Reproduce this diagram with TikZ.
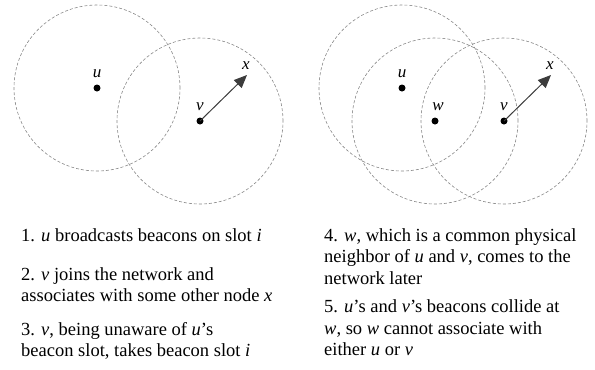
\documentclass[tikz,border=0pt]{standalone}
\usepackage{fontspec}
\setmainfont{Liberation Serif}
\usetikzlibrary{arrows.meta}
\definecolor{rangegray}{RGB}{135,135,135}
\definecolor{arrowgray}{RGB}{60,60,60}
\tikzset{
  rangecircle/.style={draw=rangegray, line width=0.6bp, dash pattern=on 3bp off 2bp},
  nodedot/.style={circle, fill=black, inner sep=0pt, minimum size=7bp},
  nodelabel/.style={font=\fontsize{17bp}{17bp}\selectfont\itshape, inner sep=0pt, anchor=base},
  assoc/.style={draw=arrowgray, line width=1bp, -{Triangle[length=13bp,width=11bp,fill=arrowgray]}},
  steptext/.style={font=\fontsize{18.5bp}{22.5bp}\selectfont, inner sep=0pt, anchor=base west}
}
\begin{document}
\begin{tikzpicture}[x=1bp,y=-1bp]
\useasboundingbox (0,0) rectangle (595,369);
% left panel
\node[nodedot] (u1) at (97,88) {};
\node[nodedot] (v1) at (200,121) {};
\coordinate (x1) at (247,75);
\draw[rangecircle] (u1.center) circle (83bp);
\draw[rangecircle] (v1.center) circle (83bp);
\draw[assoc] (v1.center) -- (x1);
\node[nodelabel] (lu1) at (97,77) {u};
\node[nodelabel] (lv1) at (200,110) {v};
\node[nodelabel] (lx1) at (246,69) {x};
% right panel
\node[nodedot] (u2) at (402,88) {};
\node[nodedot] (w2) at (435,121) {};
\node[nodedot] (v2) at (504,121) {};
\coordinate (x2) at (551,75);
\draw[rangecircle] (u2.center) circle (83bp);
\draw[rangecircle] (w2.center) circle (83bp);
\draw[rangecircle] (v2.center) circle (83bp);
\draw[assoc] (v2.center) -- (x2);
\node[nodelabel] (lu2) at (402,77) {u};
\node[nodelabel] (lw2) at (438,110) {w};
\node[nodelabel] (lv2) at (504,110) {v};
\node[nodelabel] (lx2) at (550,69) {x};
% texts, left column
\node[steptext] (s1a) at (21,241) {1. \textit{u} broadcasts beacons on slot \textit{i}};
\node[steptext] (s2a) at (21,280) {2. \textit{v} joins the network and};
\node[steptext] (s2b) at (21,301.5) {associates with some other node \textit{x}};
\node[steptext] (s3a) at (21,335) {3. \textit{v}, being unaware of \textit{u}’s};
\node[steptext] (s3b) at (21,356.5) {beacon slot, takes beacon slot \textit{i}};
% texts, right column
\node[steptext] (s4a) at (324,241) {4. \textit{w}, which is a common physical};
\node[steptext] (s4b) at (324,262.5) {neighbor of \textit{u} and \textit{v}, comes to the};
\node[steptext] (s4c) at (324,284) {network later};
\node[steptext] (s5a) at (324,312) {5. \textit{u}’s and \textit{v}’s beacons collide at};
\node[steptext] (s5b) at (324,334) {\textit{w}, so \textit{w} cannot associate with};
\node[steptext] (s5c) at (324,355.5) {either \textit{u} or \textit{v}};
\end{tikzpicture}
\end{document}
